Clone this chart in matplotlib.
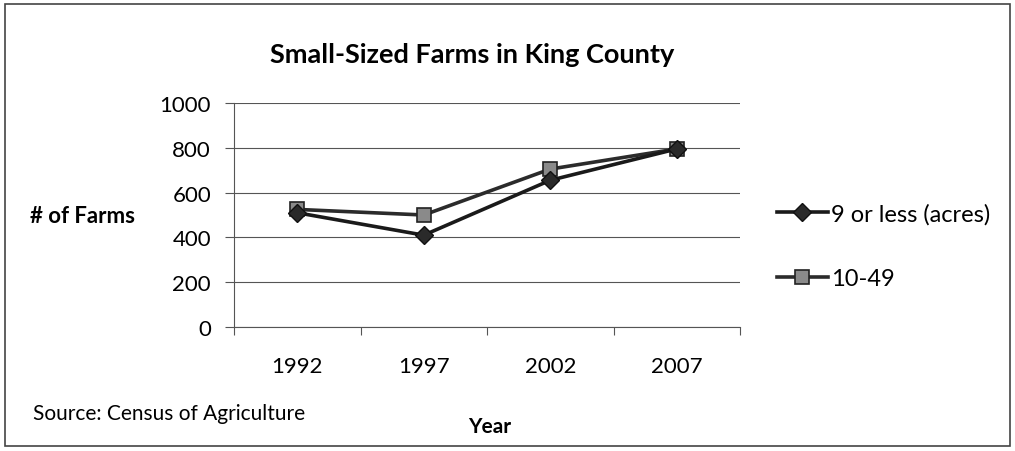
import matplotlib
matplotlib.use("Agg")
import matplotlib.pyplot as plt
from matplotlib.patches import Rectangle

plt.rcParams["font.family"] = ["Lato", "DejaVu Sans"]

years = ["1992", "1997", "2002", "2007"]
small_9_or_less = [510, 410, 655, 795]
small_10_49 = [525, 500, 705, 795]
y_ticks = [0, 200, 400, 600, 800, 1000]

W, H = 1015, 452
fig = plt.figure(figsize=(W / 100, H / 100), dpi=100)
# plot area: x 234..740 px, y 104..328 px (from top)
ax = fig.add_axes([234 / W, 1 - 328 / H, (740 - 234) / W, (328 - 104) / H])

x = list(range(len(years)))
ax.plot(x, small_9_or_less, color="#1a1a1a", lw=2.6, marker="D", ms=9.5,
        mfc="#2a2a2a", mec="#111111", label="9 or less (acres)", zorder=4)
ax.plot(x, small_10_49, color="#2b2b2b", lw=2.6, marker="s", ms=9.5,
        mfc="#8a8a8a", mec="#222222", mew=1.2, label="10-49", zorder=3)

ax.set_xlim(-0.5, len(years) - 0.5)
ax.set_ylim(0, 1000)
ax.set_yticks(y_ticks)
ax.set_yticklabels([str(v) for v in y_ticks], fontsize=16)
ax.set_xticks(x)
ax.set_xticklabels(years, fontsize=16)
ax.set_xticks([i - 0.5 for i in range(len(years) + 1)], minor=True)
ax.tick_params(axis="x", which="major", length=0, pad=21)
ax.tick_params(axis="x", which="minor", length=6, width=0.8, color="#555555",
               direction="out")
ax.tick_params(axis="y", length=6.5, width=0.8, color="#555555", pad=10)

ax.yaxis.grid(True, color="#555555", lw=0.8)
ax.set_axisbelow(True)
for side in ("top", "right"):
    ax.spines[side].set_visible(False)
for side in ("left", "bottom"):
    ax.spines[side].set_color("#555555")
    ax.spines[side].set_linewidth(0.8)

fig.text(472 / W, 1 - 55 / H, "Small-Sized Farms in King County",
         ha="center", va="center", fontsize=19.5, fontweight="bold")
fig.text(83 / W, 1 - 217 / H, "# of Farms", ha="center", va="center",
         fontsize=16, fontweight="bold")
fig.text(490 / W, 1 - 427 / H, "Year", ha="center", va="center",
         fontsize=15, fontweight="bold")
fig.text(33 / W, 1 - 414 / H, "Source: Census of Agriculture", ha="left",
         va="center", fontsize=15)

fig.legend(*ax.get_legend_handles_labels(), loc="center left",
           bbox_to_anchor=(777 / W, 1 - 247 / H),
           bbox_transform=fig.transFigure, frameon=False, fontsize=17,
           handlelength=2.15, handletextpad=0.15, labelspacing=1.85,
           borderpad=0, borderaxespad=0)

fig.add_artist(Rectangle((5 / W, 5 / H), 1 - 10 / W, 1 - 10 / H,
                         transform=fig.transFigure, fill=False,
                         ec="#444444", lw=1.2))

fig.savefig("out.png", dpi=100)
